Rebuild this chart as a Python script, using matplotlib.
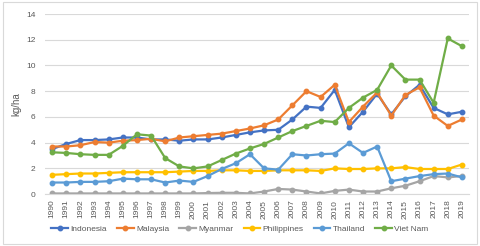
import matplotlib
matplotlib.use("Agg")
import matplotlib.pyplot as plt
from matplotlib.patches import Rectangle

plt.rcParams["font.family"] = ["Liberation Sans", "DejaVu Sans"]

# 数据
years = [str(y) for y in range(1990, 2020)]
indonesia = [3.5, 3.9, 4.2, 4.2, 4.25, 4.4, 4.4, 4.25, 4.25, 4.15,
             4.25, 4.25, 4.4, 4.6, 4.8, 4.95, 5.0, 5.8, 6.8, 6.7,
             8.1, 5.2, 6.4, 7.8, 6.2, 7.6, 8.5, 6.7, 6.2, 6.4]
malaysia = [3.7, 3.7, 3.8, 4.05, 4.0, 4.15, 4.2, 4.3, 4.1, 4.4,
            4.5, 4.6, 4.7, 4.9, 5.1, 5.35, 5.8, 6.9, 8.0, 7.55,
            8.5, 5.6, 6.8, 7.9, 6.1, 7.7, 8.3, 6.1, 5.3, 5.8]
myanmar = [0.05, 0.05, 0.05, 0.05, 0.05, 0.05, 0.05, 0.05, 0.05, 0.05,
           0.05, 0.08, 0.1, 0.1, 0.05, 0.2, 0.4, 0.35, 0.2, 0.05,
           0.25, 0.35, 0.2, 0.2, 0.45, 0.65, 1.0, 1.4, 1.3, 1.4]
philippines = [1.5, 1.55, 1.6, 1.6, 1.65, 1.7, 1.7, 1.7, 1.7, 1.75,
               1.8, 1.8, 1.85, 1.85, 1.8, 1.8, 1.85, 1.85, 1.85, 1.8,
               2.0, 1.95, 1.95, 2.0, 2.0, 2.1, 1.95, 1.95, 1.95, 2.3]
thailand = [0.9, 0.9, 0.95, 0.95, 1.0, 1.2, 1.15, 1.15, 0.9, 1.05,
            0.95, 1.4, 1.95, 2.4, 3.1, 2.0, 1.9, 3.1, 3.0, 3.1,
            3.15, 3.95, 3.2, 3.7, 1.0, 1.2, 1.4, 1.55, 1.6, 1.3]
vietnam = [3.25, 3.2, 3.1, 3.05, 3.05, 3.75, 4.65, 4.55, 2.8, 2.15,
           2.0, 2.15, 2.65, 3.15, 3.55, 3.9, 4.4, 4.9, 5.3, 5.7,
           5.6, 6.7, 7.5, 8.1, 10.0, 8.9, 8.9, 7.1, 12.1, 11.5]

series = [
    ("Indonesia", indonesia, "#4472C4"),
    ("Malaysia", malaysia, "#ED7D31"),
    ("Myanmar", myanmar, "#A5A5A5"),
    ("Philippines", philippines, "#FFC000"),
    ("Thailand", thailand, "#5B9BD5"),
    ("Viet Nam", vietnam, "#70AD47"),
]

txt = "#595959"
fig = plt.figure(figsize=(4.8, 2.46), dpi=100)
ax = fig.add_axes([0.094, 0.211, 0.883, 0.732])

x = list(range(len(years)))
for name, vals, c in series:
    ax.plot(x, vals, color=c, lw=1.6, marker="o", ms=3.2, label=name)

ax.set_xlim(-0.5, len(years) - 0.5)
ax.set_ylim(0, 14)
ax.set_yticks(range(0, 15, 2))
ax.set_xticks(x)
ax.set_xticklabels(years, rotation=90)
ax.tick_params(axis="both", length=0, labelsize=6, colors=txt)
ax.tick_params(axis="y", pad=7)
ax.tick_params(axis="x", pad=4)
ax.grid(axis="y", color="#D9D9D9", lw=0.8)
ax.set_axisbelow(True)
for s in ["top", "right", "left"]:
    ax.spines[s].set_visible(False)
ax.spines["bottom"].set_color("#D9D9D9")
ax.set_ylabel("kg/ha", fontsize=7, color=txt, labelpad=3)

fig.legend(loc="center", bbox_to_anchor=(0.5, 0.069), ncol=6, frameon=False,
           fontsize=6, labelcolor=txt, handlelength=2.0, columnspacing=1.2,
           handletextpad=0.3)

fig.patches.append(Rectangle((0.006, 0.01), 0.988, 0.98, transform=fig.transFigure,
                             fill=False, edgecolor="#D9D9D9", lw=0.8))

fig.savefig("out.png", dpi=100)
